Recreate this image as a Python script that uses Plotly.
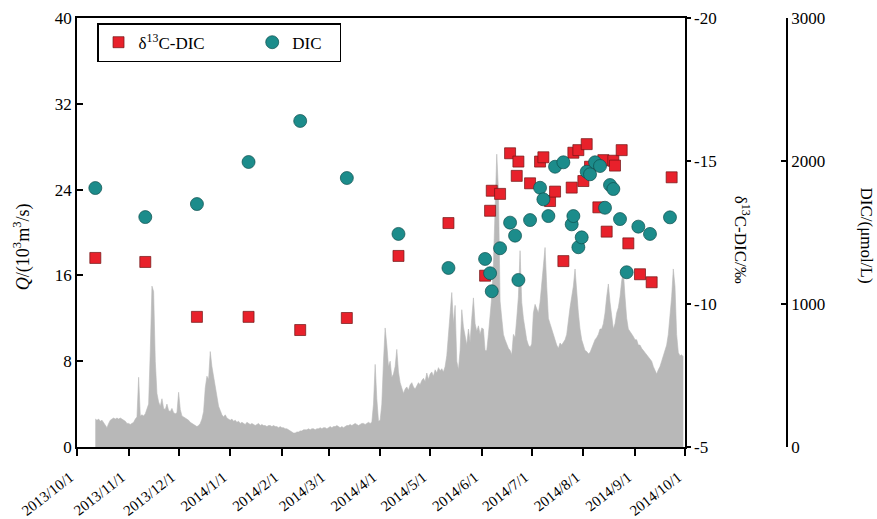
import plotly.graph_objects as go
import pandas as pd

# ---------------- data ----------------
# daily discharge Q (10^3 m^3/s), record starts 2013-10-12
q_start = "2013-10-12"
q_oct = [2.6, 2.5, 2.6, 2.4, 2.5, 2.3, 2.0, 1.8, 2.2, 2.5, 2.6, 2.7, 2.6, 2.7, 2.6, 2.7, 2.6, 2.5, 2.4, 2.2]
q_nov = [2.2, 2.1, 2.2, 2.3, 2.6, 2.8, 6.5, 2.9, 3.0, 2.9, 3.1, 3.5, 4.0, 9.0, 15.0, 14.5, 8.0, 5.0, 4.2, 3.8,
         4.5, 3.6, 3.5, 4.0, 3.4, 3.3, 3.6, 3.2, 3.1, 3.2]
q_dec = [5.1, 3.5, 2.9, 2.8, 2.7, 2.6, 2.5, 2.3, 2.2, 2.1, 2.0, 1.9, 2.0, 2.2, 2.6, 3.3, 5.5, 6.6, 6.3, 8.9,
         7.5, 6.5, 5.5, 4.5, 3.8, 3.4, 3.0, 2.8, 3.0, 2.7, 2.6]
q_jan = [2.5, 2.6, 2.4, 2.5, 2.3, 2.4, 2.2, 2.3, 2.2, 2.1, 2.3, 2.2, 2.1, 2.2, 2.1, 2.0, 2.1, 2.2, 2.0, 2.1,
         2.0, 2.0, 1.9, 2.0, 2.0, 1.9, 2.0, 1.9, 1.9, 1.8, 1.9]
q_feb = [1.8, 1.8, 1.7, 1.7, 1.6, 1.5, 1.4, 1.3, 1.3, 1.4, 1.4, 1.5, 1.5, 1.6, 1.6, 1.6, 1.7, 1.6, 1.7, 1.7,
         1.6, 1.7, 1.7, 1.8, 1.7, 1.8, 1.8, 1.7]
q_mar = [1.8, 1.9, 1.8, 1.9, 1.9, 2.0, 1.9, 1.8, 1.9, 1.8, 1.9, 2.0, 2.0, 2.1, 2.0, 2.1, 2.2, 2.1, 2.0, 2.1,
         2.2, 2.2, 2.1, 2.2, 2.3, 2.2, 2.3, 4.0, 7.7, 4.5, 2.4]
q_apr = [2.5, 4.0, 8.0, 11.1, 9.5, 7.5, 8.0, 6.5, 6.8, 7.5, 9.1, 7.0, 6.0, 5.5, 5.0, 5.4, 5.6, 5.3, 5.8, 6.0,
         5.6, 5.4, 5.7, 6.0, 5.8, 6.2, 6.4, 6.1, 6.9, 6.3]
q_may = [6.8, 7.0, 6.6, 7.2, 6.9, 7.4, 7.1, 7.3, 7.0, 7.5, 8.5, 10.5, 12.0, 14.4, 11.5, 13.2, 8.0, 7.2, 9.0, 12.8,
         11.2, 10.5, 9.5, 11.0, 9.8, 12.0, 13.9, 11.5, 10.8, 11.3, 10.5]
q_jun = [11.1, 11.0, 9.0, 9.0, 10.5, 12.4, 14.0, 17.0, 21.6, 27.3, 24.0, 13.6, 12.0, 10.5, 10.0, 9.5, 9.2, 9.0, 8.6, 10.5,
         10.2, 12.0, 14.0, 18.3, 13.5, 12.0, 11.0, 10.0, 9.5, 9.3]
q_jul = [9.6, 12.5, 13.3, 12.8, 12.5, 13.5, 15.0, 16.5, 18.6, 15.0, 12.0, 11.5, 11.0, 10.3, 10.0, 9.5, 9.2, 9.7, 9.5, 9.8,
         10.0, 10.5, 12.0, 13.0, 14.0, 15.0, 16.6, 14.0, 12.5, 11.0, 10.0]
q_aug = [9.5, 9.0, 8.9, 8.7, 8.8, 9.2, 9.5, 10.0, 10.2, 10.5, 11.0, 11.0, 11.5, 12.5, 14.0, 15.2, 13.5, 12.0, 11.0, 11.5,
         12.5, 13.0, 14.0, 15.5, 16.4, 14.0, 12.0, 11.0, 10.8, 10.5, 10.3]
q_sep = [10.0, 10.0, 9.5, 9.5, 9.2, 9.0, 8.8, 8.7, 8.5, 8.3, 8.0, 7.5, 7.2, 6.8, 7.2, 7.5, 8.0, 8.5, 8.8, 9.5,
         10.5, 12.0, 14.0, 16.6, 15.0, 10.5, 8.8, 8.5, 8.6, 8.4]

# delta13C-DIC (permil)
d13c_dates = ["2013-10-12", "2013-11-11", "2013-12-12", "2014-01-12", "2014-02-12", "2014-03-12",
              "2014-04-12", "2014-05-12",
              "2014-06-03", "2014-06-06", "2014-06-07", "2014-06-12", "2014-06-18", "2014-06-22",
              "2014-06-23", "2014-06-30", "2014-07-06", "2014-07-08", "2014-07-12", "2014-07-15",
              "2014-07-20", "2014-07-25", "2014-07-26", "2014-07-29", "2014-08-01", "2014-08-03",
              "2014-08-05", "2014-08-10", "2014-08-13", "2014-08-15", "2014-08-19", "2014-08-20",
              "2014-08-24", "2014-08-28", "2014-09-04", "2014-09-11", "2014-09-23"]
d13c_values = [-11.61, -11.47, -9.55, -9.55, -9.09, -9.51, -11.68, -12.83,
               -10.99, -13.26, -13.96, -13.85, -15.27, -14.48,
               -14.98, -14.22, -14.98, -15.13, -13.60, -13.93,
               -11.50, -14.07, -15.29, -15.38, -14.30, -15.59,
               -14.80, -13.38, -15.03, -12.53, -15.01, -14.84,
               -15.38, -12.12, -11.04, -10.76, -14.43]

# DIC (umol/L)
dic_dates = ["2013-10-12", "2013-11-11", "2013-12-12", "2014-01-12", "2014-02-12", "2014-03-12",
             "2014-04-12", "2014-05-12",
             "2014-06-03", "2014-06-06", "2014-06-07", "2014-06-12", "2014-06-18", "2014-06-21",
             "2014-06-23", "2014-06-30", "2014-07-06", "2014-07-08", "2014-07-11", "2014-07-15",
             "2014-07-20", "2014-07-25", "2014-07-26", "2014-07-29", "2014-07-31", "2014-08-03",
             "2014-08-05", "2014-08-08", "2014-08-11", "2014-08-14", "2014-08-17", "2014-08-19",
             "2014-08-23", "2014-08-27", "2014-09-03", "2014-09-10", "2014-09-22"]
dic_values = [1811, 1608, 1699, 1993, 2280, 1881, 1490, 1252,
              1315, 1215, 1089, 1390, 1569, 1478,
              1168, 1587, 1813, 1732, 1615, 1960,
              1991, 1557, 1615, 1397, 1466, 1925,
              1907, 1991, 1965, 1673, 1832, 1804,
              1594, 1222, 1541, 1490, 1606]

month_ticks = ["2013-10-01", "2013-11-01", "2013-12-01", "2014-01-01", "2014-02-01", "2014-03-01",
               "2014-04-01", "2014-05-01", "2014-06-01", "2014-07-01", "2014-08-01", "2014-09-01",
               "2014-10-01"]
month_labels = ["2013/10/1", "2013/11/1", "2013/12/1", "2014/1/1", "2014/2/1", "2014/3/1",
                "2014/4/1", "2014/5/1", "2014/6/1", "2014/7/1", "2014/8/1", "2014/9/1", "2014/10/1"]
q_ticks = [0, 8, 16, 24, 32, 40]
d13c_ticks = [-20, -15, -10, -5]
d13c_ticktext = ["-20", "-15", "-10", "-5"]
dic_ticks = [0, 1000, 2000, 3000]

# ---------------- figure ----------------
GRAY = "#b8b8b8"
RED = "#e8212b"
TEAL = "#1c8c8b"
FONT = "Liberation Serif"
NBSP = "\u00a0"

q_values = q_oct + q_nov + q_dec + q_jan + q_feb + q_mar + q_apr + q_may + q_jun + q_jul + q_aug + q_sep
q_dates = pd.date_range(q_start, periods=len(q_values), freq="D")

fig = go.Figure()
fig.add_trace(go.Scatter(x=q_dates, y=q_values, mode="lines", fill="tozeroy",
                         line=dict(color=GRAY, width=0.6), fillcolor=GRAY,
                         showlegend=False, hoverinfo="skip", yaxis="y"))
fig.add_trace(go.Scatter(x=d13c_dates, y=d13c_values, mode="markers",
                         name="δ<sup>13</sup>C-DIC" + NBSP * 10,
                         marker=dict(symbol="square", size=11, color=RED,
                                     line=dict(color="#6e1515", width=0.7)),
                         yaxis="y2"))
fig.add_trace(go.Scatter(x=dic_dates, y=dic_values, mode="markers", name="DIC" + NBSP * 3,
                         marker=dict(symbol="circle", size=13, color=TEAL,
                                     line=dict(color="#0f4f4e", width=0.7)),
                         yaxis="y3"))

axis_common = dict(showgrid=False, zeroline=False, showline=True, linecolor="black", linewidth=1.5,
                   tickcolor="black", tickwidth=1.5, automargin=False)

fig.update_layout(
    width=877, height=519,
    margin=dict(l=77, r=77, t=18, b=72),
    paper_bgcolor="white", plot_bgcolor="white",
    font=dict(family=FONT, size=16, color="black"),
    xaxis=dict(domain=[0, 0.8409], range=["2013-10-01", "2014-10-01"], type="date",
               tickvals=month_ticks, ticktext=month_labels, tickangle=-38,
               ticks="outside", ticklen=7, mirror=True, tickfont=dict(size=15),
               ticklabelshift=-7, ticklabelstandoff=7,
               **axis_common),
    yaxis=dict(range=[0, 40], tickvals=q_ticks, ticks="inside", ticklen=6,
               tickfont=dict(size=17), **axis_common),
    yaxis2=dict(overlaying="y", side="right", anchor="x", range=[-5, -20],
                tickvals=d13c_ticks, ticktext=d13c_ticktext, ticks="outside", ticklen=4,
                tickfont=dict(size=17), **axis_common),
    yaxis3=dict(overlaying="y", side="right", anchor="free", position=0.982, range=[0, 3000],
                tickvals=dic_ticks, ticks="inside", ticklen=5,
                tickfont=dict(size=17), **axis_common),
    legend=dict(orientation="h", x=0.0277, y=0.988, xanchor="left", yanchor="top",
                bordercolor="black", borderwidth=1.5, bgcolor="white",
                font=dict(size=17)),
    showlegend=True,
)

fig.add_annotation(text="<i>Q</i>/(10<sup>3</sup>m<sup>3</sup>/s)", xref="paper", yref="paper",
                   x=-0.076, y=0.466, xanchor="center", yanchor="middle",
                   textangle=-90, showarrow=False, font=dict(size=18))
fig.add_annotation(text="δ<sup>13</sup>C-DIC/‰", xref="paper", yref="paper",
                   x=0.92, y=0.4825, xanchor="center", yanchor="middle",
                   textangle=90, showarrow=False, font=dict(size=17))
fig.add_annotation(text="DIC/(μmol/L)", xref="paper", yref="paper",
                   x=1.092, y=0.494, xanchor="center", yanchor="middle",
                   textangle=90, showarrow=False, font=dict(size=17))

fig.write_html("out.html")
